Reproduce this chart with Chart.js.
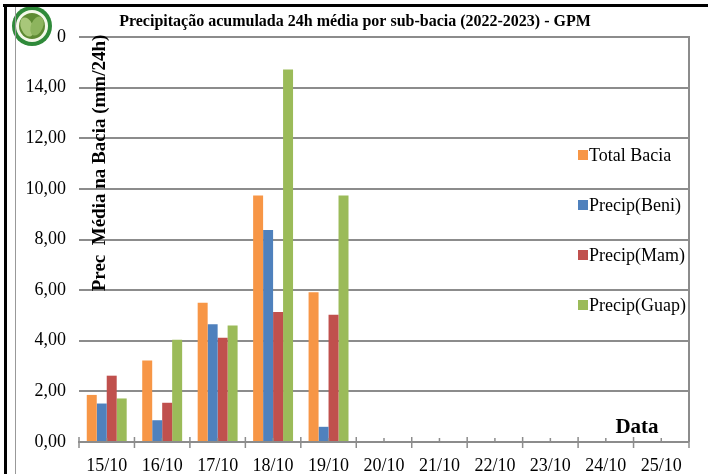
<!DOCTYPE html>
<html>
<head>
<meta charset="utf-8">
<script src="https://cdn.jsdelivr.net/npm/chart.js@4.4.1/dist/chart.umd.min.js"></script>
<style>
  html, body { margin: 0; padding: 0; background: #fff; }
  #wrap { position: relative; width: 708px; height: 474px; overflow: hidden; }
  #c { position: absolute; left: 0; top: 0; }
  .frameTop { position: absolute; left: 3px; top: 4px; width: 705px; height: 3px; background: #000; }
  .frameLeft { position: absolute; left: 4px; top: 4px; width: 3px; height: 470px; background: #000; }
  .frameInner { position: absolute; left: 15px; top: 7px; width: 1px; height: 467px; background: #999; }
</style>
</head>
<body>
<div id="wrap">
  <canvas id="c" width="708" height="474"></canvas>
  <div class="frameTop"></div>
  <div class="frameLeft"></div>
  <div class="frameInner"></div>
</div>
<script>
const labels = ['15/10', '16/10', '17/10', '18/10', '19/10', '20/10', '21/10', '22/10', '23/10', '24/10', '25/10'];
const totalBacia = [1.86, 3.22, 5.50, 9.74, 5.92, null, null, null, null, null, null];
const precipBeni = [1.52, 0.86, 4.65, 8.38, 0.60, null, null, null, null, null, null];
const precipMam  = [2.62, 1.55, 4.12, 5.14, 5.03, null, null, null, null, null, null];
const precipGuap = [1.72, 4.04, 4.60, 14.72, 9.74, null, null, null, null, null, null];

const serif = '"Liberation Serif", "Times New Roman", serif';

// extra drawing: title, axis titles, legend, x axis ticks, logo
const decor = {
    id: 'decor',
    afterDraw(chart) {
        const ctx = chart.ctx;
        const area = chart.chartArea;
        const xs = chart.scales.x;
        ctx.save();

        // right border of plot area
        ctx.strokeStyle = '#8c8c8c';
        ctx.lineWidth = 2;
        ctx.beginPath();
        ctx.moveTo(area.right, area.top - 1);
        ctx.lineTo(area.right, area.bottom);
        ctx.stroke();

        // x axis line and tick marks
        ctx.beginPath();
        ctx.moveTo(area.left - 1, area.bottom);
        ctx.lineTo(area.right, area.bottom);
        ctx.stroke();
        ctx.lineWidth = 1.5;
        const step = xs.getPixelForValue(1) - xs.getPixelForValue(0);
        for (let i = 0; i <= labels.length; i++) {
            const x = xs.getPixelForValue(0) - step / 2 + i * step;
            ctx.beginPath();
            ctx.moveTo(x, area.bottom - 5);
            ctx.lineTo(x, area.bottom + 6);
            ctx.stroke();
        }
        for (let i = 0; i < labels.length; i++) {
            const x = xs.getPixelForValue(i);
            ctx.beginPath();
            ctx.moveTo(x, area.bottom - 4);
            ctx.lineTo(x, area.bottom);
            ctx.stroke();
        }

        // title
        ctx.fillStyle = '#000';
        ctx.font = 'bold 16px ' + serif;
        ctx.textAlign = 'center';
        ctx.textBaseline = 'middle';
        ctx.fillText('Precipitação acumulada 24h média por sub-bacia (2022-2023) - GPM', 355, 22);

        // y axis title
        ctx.save();
        ctx.translate(100, 163);
        ctx.rotate(-Math.PI / 2);
        ctx.font = 'bold 19px ' + serif;
        ctx.fillText('Prec  Média na Bacia (mm/24h)', 0, 0);
        ctx.restore();

        // x axis title
        ctx.font = 'bold 21px ' + serif;
        ctx.fillText('Data', 637, 428);

        // legend
        ctx.textAlign = 'left';
        ctx.font = '18px ' + serif;
        chart.data.datasets.forEach(function(ds, i) {
            const y = 155 + i * 50;
            ctx.fillStyle = ds.backgroundColor;
            ctx.fillRect(578, y - 5, 10, 10);
            ctx.fillStyle = '#000';
            ctx.fillText(ds.label, 589, y + 1);
        });

        // logo
        ctx.fillStyle = '#fff';
        ctx.fillRect(16, 7, 41, 40);
        ctx.beginPath();
        ctx.arc(32, 26, 20, 0, Math.PI * 2);
        ctx.fillStyle = '#2f8a3a';
        ctx.fill();
        ctx.beginPath();
        ctx.arc(32, 26, 16, 0, Math.PI * 2);
        ctx.fillStyle = '#f4f8ea';
        ctx.fill();
        ctx.beginPath();
        ctx.arc(32, 26, 13, 0, Math.PI * 2);
        ctx.fillStyle = '#5e8a33';
        ctx.fill();
        ctx.beginPath();
        ctx.ellipse(27, 27, 6, 10, -0.4, 0, Math.PI * 2);
        ctx.fillStyle = '#a8c77a';
        ctx.fill();
        ctx.beginPath();
        ctx.ellipse(37, 26, 6, 10, 0.4, 0, Math.PI * 2);
        ctx.fillStyle = '#8db45e';
        ctx.fill();

        ctx.restore();
    }
};

const ctx = document.getElementById('c').getContext('2d');
const chart = new Chart(ctx, {
    type: 'bar',
    data: {
        labels: labels,
        datasets: [{
            label: 'Total Bacia',
            data: totalBacia,
            backgroundColor: '#F79646'
        },
        {
            label: 'Precip(Beni)',
            data: precipBeni,
            backgroundColor: '#4F81BD'
        },
        {
            label: 'Precip(Mam)',
            data: precipMam,
            backgroundColor: '#C0504D'
        },
        {
            label: 'Precip(Guap)',
            data: precipGuap,
            backgroundColor: '#9BBB59'
        }]
    },
    options: {
        responsive: false,
        animation: false,
        layout: {
            padding: { left: 0, right: 19, top: 37, bottom: 0 }
        },
        datasets: {
            bar: {
                categoryPercentage: 0.72,
                barPercentage: 1.0
            }
        },
        plugins: {
            legend: { display: false },
            title: { display: false },
            tooltip: { enabled: false }
        },
        scales: {
            x: {
                grid: { display: false },
                border: { display: false },
                afterFit: function(scale) { scale.height = 32; },
                ticks: {
                    color: '#000',
                    padding: 5,
                    maxRotation: 0,
                    autoSkip: false,
                    font: { family: serif, size: 18 }
                }
            },
            y: {
                min: 0,
                max: 16,
                afterFit: function(scale) { scale.width = 79; },
                border: { display: false },
                grid: {
                    color: '#8c8c8c',
                    lineWidth: 2,
                    drawTicks: false
                },
                ticks: {
                    stepSize: 2,
                    color: '#000',
                    padding: 13,
                    font: { family: serif, size: 18 },
                    callback: function(value) {
                        return value.toFixed(2).replace('.', ',');
                    }
                }
            }
        }
    },
    plugins: [decor]
});
</script>
</body>
</html>
